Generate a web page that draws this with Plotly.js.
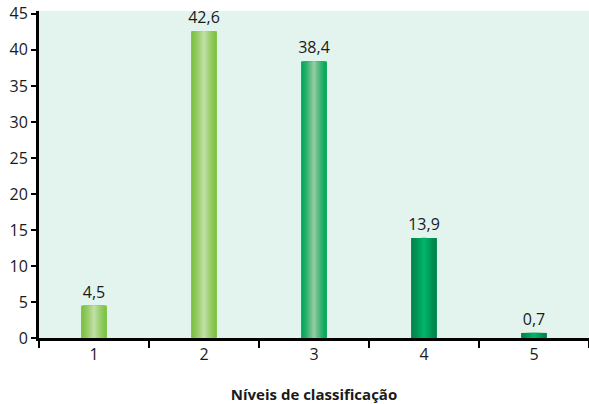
<!DOCTYPE html>
<html>
<head>
<meta charset="utf-8">
<script src="https://cdn.plot.ly/plotly-3.0.1.min.js"></script>
<style>html,body{margin:0;padding:0;background:#fff;}#chart{width:589px;height:404px;}</style>
</head>
<body>
<div id="chart"></div>
<script>
const categories = ["1", "2", "3", "4", "5"];
const values = [4.5, 42.6, 38.4, 13.9, 0.7];
const valueLabels = ["4,5", "42,6", "38,4", "13,9", "0,7"];
const xTitle = "Níveis de classificação";

// edge and centre colours of each bar (horizontal gradient)
const edgeColors = ["#7cc242", "#7cc242", "#00a859", "#00854a", "#00854a"];
const centerColors = ["#bfdfa4", "#bfdfa4", "#93caa0", "#00b56a", "#00b56a"];

function hexToRgb(h){h=h.replace('#','');return [parseInt(h.substr(0,2),16),parseInt(h.substr(2,2),16),parseInt(h.substr(4,2),16)];}
function mix(a,b,t){const A=hexToRgb(a),B=hexToRgb(b);return 'rgb('+A.map((v,i)=>Math.round(v+(B[i]-v)*t)).join(',')+')';}

const fullWidth = 0.235;
const layers = 12;
const traces = [];
for (let k = 0; k < layers; k++) {
  const frac = 1 - k / layers;
  const t = Math.pow(k / (layers - 1), 1.3);
  traces.push({
    type: 'bar',
    x: categories,
    y: values,
    width: fullWidth * frac,
    marker: {color: edgeColors.map((c, i) => mix(c, centerColors[i], t)), line: {width: 0}},
    text: k === 0 ? valueLabels : undefined,
    textposition: k === 0 ? 'outside' : 'none',
    constraintext: 'none',
    textfont: {family: 'Open Sans', size: 16, color: '#1a1a1a'},
    cliponaxis: false,
    hoverinfo: 'skip',
    showlegend: false
  });
}

const layout = {
  width: 589, height: 404,
  margin: {l: 39, r: 0, t: 11, b: 66},
  paper_bgcolor: '#ffffff',
  plot_bgcolor: '#e3f4ee',
  barmode: 'overlay',
  separators: ',.',
  font: {family: 'Open Sans', color: '#1a1a1a', size: 16},
  xaxis: {
    type: 'category',
    range: [-0.5, 4.5],
    tickson: 'boundaries',
    ticks: 'outside', ticklen: 7, tickwidth: 2, tickcolor: '#000',
    showline: true, linecolor: '#000', linewidth: 3,
    showgrid: false, zeroline: false,
    tickfont: {family: 'Open Sans', size: 16, color: '#1a1a1a'},
    title: {text: '<b>' + xTitle + '</b>', font: {family: 'Open Sans', size: 15, color: '#1a1a1a'}, standoff: 26}
  },
  yaxis: {
    range: [0, 45.4],
    dtick: 5, tick0: 0,
    ticks: 'outside', ticklen: 5, tickwidth: 2, tickcolor: '#000',
    showline: true, linecolor: '#000', linewidth: 3,
    showgrid: false, zeroline: false,
    tickfont: {family: 'Open Sans', size: 16, color: '#1a1a1a'}
  }
};

Plotly.newPlot('chart', traces, layout, {staticPlot: true, displayModeBar: false});
</script>
</body>
</html>
